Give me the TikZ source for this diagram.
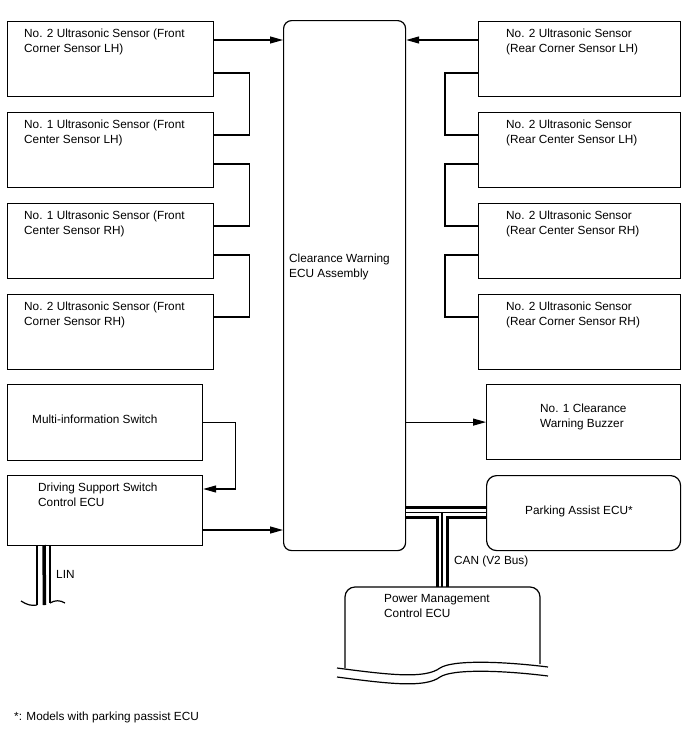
\documentclass[tikz,border=0pt]{standalone}
\usepackage{fontspec}
\setmainfont{Liberation Sans}
\usetikzlibrary{arrows.meta, positioning, calc}

\tikzset{
  unit/.style={draw, line width=1.2pt, anchor=north west, inner sep=0pt},
  sensor/.style={unit, minimum width=206pt, minimum height=75pt},
  txt/.style={anchor=base west, inner sep=0pt, align=left, font=\fontsize{11.8pt}{15pt}\selectfont},
  wire/.style={line width=1.2pt},
  arrow/.style={wire, -{Triangle[length=13pt, width=7pt]}},
  busout/.style={line width=13pt},
  busin/.style={line width=7pt, white},
  buscore/.style={line width=1.2pt}
}

\begin{document}
\begin{tikzpicture}[x=1pt, y=-1pt]
\useasboundingbox (0,0) rectangle (688,755);

% Clearance warning ECU
\node[unit, rounded corners=8pt, minimum width=122pt, minimum height=530pt] (ecu) at (283,20) {};
\node[txt] (ecutxt) at (289,277) {Clearance Warning\\ECU Assembly};

% Front sensors
\node[sensor] (fl2) at (7,21) {};
\node[sensor] (fl1) at (7,112) {};
\node[sensor] (fr1) at (7,203) {};
\node[sensor] (fr2) at (7,294) {};
\node[txt] at (24,52) {No. 2 Ultrasonic Sensor (Front\\Corner Sensor LH)};
\node[txt] at (24,143) {No. 1 Ultrasonic Sensor (Front\\Center Sensor LH)};
\node[txt] at (24,234) {No. 1 Ultrasonic Sensor (Front\\Center Sensor RH)};
\node[txt] at (24,325) {No. 2 Ultrasonic Sensor (Front\\Corner Sensor RH)};

% Rear sensors
\node[sensor, minimum width=202pt] (rl2) at (478,21) {};
\node[sensor, minimum width=202pt] (rcl) at (478,112) {};
\node[sensor, minimum width=202pt] (rcr) at (478,203) {};
\node[sensor, minimum width=202pt] (rr2) at (478,294) {};
\node[txt] at (506,52) {No. 2 Ultrasonic Sensor\\(Rear Corner Sensor LH)};
\node[txt] at (506,143) {No. 2 Ultrasonic Sensor\\(Rear Center Sensor LH)};
\node[txt] at (506,234) {No. 2 Ultrasonic Sensor\\(Rear Center Sensor RH)};
\node[txt] at (506,325) {No. 2 Ultrasonic Sensor\\(Rear Corner Sensor RH)};

% Switches
\node[unit, minimum width=195pt, minimum height=76pt] (multi) at (7,384) {};
\node[txt] at (32,423) {Multi-information Switch};
\node[unit, minimum width=195pt, minimum height=70pt] (drive) at (7,475) {};
\node[txt] at (38,506) {Driving Support Switch\\Control ECU};

% Buzzer and parking assist
\node[unit, minimum width=194pt, minimum height=75pt] (buzz) at (486,384) {};
\node[txt] at (540,427) {No. 1 Clearance\\Warning Buzzer};

% Sensor chains
\draw[arrow] (fl2.east |- 0,40) -- (ecu.west |- 0,40);
\draw[wire] (fl2.east |- 0,73) -- ++(35,0) |- (fl1.east |- 0,135);
\draw[wire] (fl1.east |- 0,164) -- ++(35,0) |- (fr1.east |- 0,226);
\draw[wire] (fr1.east |- 0,255) -- ++(35,0) |- (fr2.east |- 0,317);
\draw[arrow] (rl2.west |- 0,40) -- (ecu.east |- 0,40);
\draw[wire] (rl2.west |- 0,73) -- ++(-33,0) |- (rcl.west |- 0,135);
\draw[wire] (rcl.west |- 0,164) -- ++(-33,0) |- (rcr.west |- 0,226);
\draw[wire] (rcr.west |- 0,255) -- ++(-33,0) |- (rr2.west |- 0,317);

% Switch signals
\draw[arrow] (multi.east) -- ++(32,0) |- (drive.east |- 0,489);
\draw[arrow] (drive.east |- 0,530) -- (ecu.west |- 0,530);
\draw[arrow] (ecu.east |- buzz.west) -- (buzz.west);

% CAN bus
\coordinate (tee) at (442,512.5);
\coordinate (pm) at (442,587);
\draw[busout] (ecu.east |- 0,512.5) -- (486,512.5) (tee) -- (pm);
\draw[busin] (ecu.east |- 0,512.5) -- (486,512.5) (tee) -- (pm);
\draw[buscore] (ecu.east |- 0,512.5) -- (486,512.5) (tee) -- (pm);
\node[unit, rounded corners=10pt, minimum width=194pt, minimum height=75pt, fill=white] (park) at (486,475) {};
\node[txt] at (525,514) {Parking Assist ECU*};
\node[txt] (can) at (454,564) {CAN (V2 Bus)};

% Power management ECU
\draw[wire, rounded corners=10pt] (345,668) -- (345,587) -- (540,587) -- (540,664);
\draw[wire] (337,668) .. controls (390,675) and (425,679) .. (440,668)
  .. controls (452,660) and (500,661) .. (548,667);
\draw[wire] (337,677) .. controls (390,684) and (425,688) .. (440,677)
  .. controls (452,669) and (500,670) .. (548,676);
\node[txt] (pmtxt) at (384,617) {Power Management\\Control ECU};

% LIN
\coordinate (lin) at (44,545);
\draw[wire] (37,545) -- (37,605) (50,545) -- (50,603);
\draw[line width=3.5pt] (lin) -- (44.5,605);
\draw[wire] (21,601) .. controls (27,605) and (32,606) .. (37,605);
\draw[wire] (50,603) .. controls (55,600) and (60,600) .. (65,603);
\node[txt] (lintxt) at (56,578) {LIN};

\node[txt] (note) at (14,720) {*: Models with parking passist ECU};
\end{tikzpicture}
\end{document}
